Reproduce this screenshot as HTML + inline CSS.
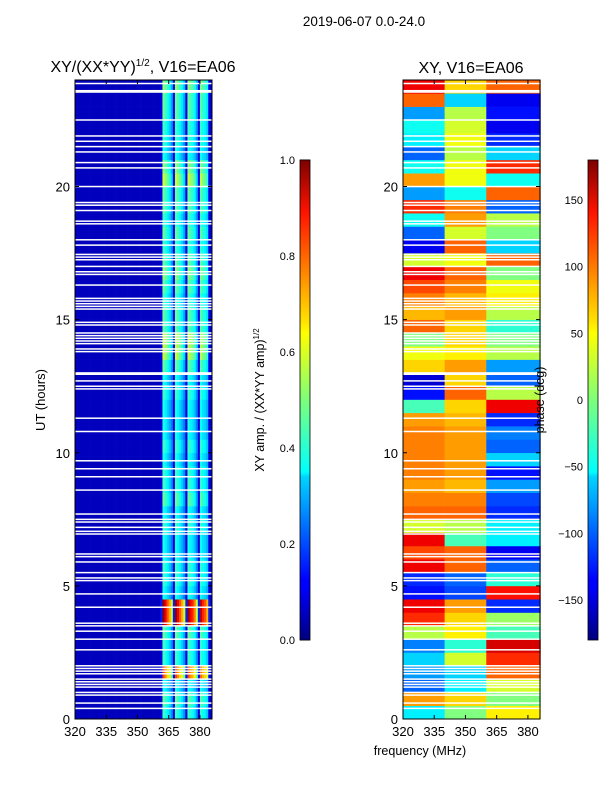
<!DOCTYPE html>
<html><head><meta charset="utf-8">
<style>
body{margin:0;background:#fff;}
svg text{font-family:"Liberation Sans",sans-serif;fill:#000;}
</style></head>
<body>
<svg id="fig" width="600" height="800" xmlns="http://www.w3.org/2000/svg">
<defs>
<linearGradient id="jet" x1="0" y1="1" x2="0" y2="0">
<stop offset="0" stop-color="#00007f"/><stop offset="0.11" stop-color="#0000ff"/>
<stop offset="0.125" stop-color="#0000ff"/><stop offset="0.34" stop-color="#00d4ff"/>
<stop offset="0.35" stop-color="#0ff"/><stop offset="0.5" stop-color="#7dff7a"/>
<stop offset="0.64" stop-color="#ff0"/><stop offset="0.66" stop-color="#ffe600"/>
<stop offset="0.89" stop-color="#ff1300"/><stop offset="1" stop-color="#7f0000"/>
</linearGradient>
</defs>
<text x="364" y="26" font-size="13.5" text-anchor="middle">2019-06-07 0.0-24.0</text>
<text x="143" y="72" font-size="16" text-anchor="middle">XY/(XX*YY)<tspan font-size="10" dy="-6">1/2</tspan><tspan dy="6">, V16=EA06</tspan></text>
<text x="471" y="73" font-size="16" text-anchor="middle">XY, V16=EA06</text>
<g id="ampPlot"></g>
<g id="phPlot"></g>
<g id="axes"></g>
<text transform="translate(45,400) rotate(-90)" font-size="13" text-anchor="middle">UT (hours)</text>
<text x="420" y="755" font-size="12.5" text-anchor="middle">frequency (MHz)</text>
<rect x="300" y="160" width="10" height="480" fill="url(#jet)" stroke="#000" stroke-width="0.8"/>
<rect x="588" y="160" width="10" height="480" fill="url(#jet)" stroke="#000" stroke-width="0.8"/>
<text transform="translate(264,400) rotate(-90)" font-size="12.5" text-anchor="middle">XY amp. / (XX*YY amp)<tspan font-size="8" dy="-5">1/2</tspan></text>
<text transform="translate(544,400) rotate(-90)" font-size="12.5" text-anchor="middle">phase (deg)</text>
</svg>
<script>
const NS='http://www.w3.org/2000/svg';
// ---- data ----
const xTicks=[320,335,350,365,380];
const yTicks=[0,5,10,15,20];
const ampTicks=[0.0,0.2,0.4,0.6,0.8,1.0];
const phaseTicks=[-150,-100,-50,0,50,100,150];
// amplitude channel profile, 1 MHz bins from 320 to 386
const chanProfile=[0,0,0,0,0,0,0,0,0,0,0,0,0,0,0,0,0,0,0,0,0,0,0,0,0,0,0,0,0,0,0,0,0,0,0,0,0,0,0,0,0,0.1,
 1,0.9,0.8,0.7,0.55,0.1, 1,0.9,0.8,0.7,0.55,0.1, 1,0.9,0.85,0.75,0.55,0.1, 0.95,0.85,0.8,0.7,0.1,0.03];
// amplitude per half hour row (0h upward)
const ampRow=[0.38,0.42,0.34,0.75,0.38,0.38,0.42,0.92,0.92,0.34,0.38,0.38,0.34,0.34,0.38,0.34,0.42,0.38,0.38,0.34,0.38,0.34,0.34,0.34,
 0.38,0.34,0.42,0.52,0.52,0.42,0.42,0.38,0.42,0.46,0.42,0.38,0.42,0.38,0.42,0.42,0.52,0.46,0.34,0.38,0.38,0.42,0.42,0.46];
// phase per half hour: three frequency regions
const phaseA=[-50,80,-100,-80,-60,-90,20,120,140,-130,-120,140,110,140,30,100,90,80,90,90,90,90,80,-20,
 -130,-150,60,40,0,100,70,90,110,140,30,-140,-100,-40,120,-80,80,-40,-100,-50,-40,-80,100,140];
const phaseB=[0,60,-50,-60,30,-30,50,60,80,-110,-100,100,100,-20,20,100,90,70,80,80,80,80,70,60,
 100,60,80,50,60,60,80,70,90,100,40,100,30,80,90,-40,40,40,20,40,30,20,-60,60];
const phaseC=[50,0,30,100,120,150,-20,10,-120,130,-30,-100,-140,-50,-50,-120,-110,-80,-130,-60,-100,-90,-120,140,
 20,-100,-80,20,0,-30,20,50,40,0,100,-60,0,20,-100,100,-40,120,-60,-120,-140,-130,-140,100];
const phaseEdges=[320,340,360,386];
// flagged (white) rows, hours
const flagged=[23.87,23.6,23.55,22.5,21.9,21.7,21.5,21.3,20.9,20.7,20.0,19.4,19.3,19.1,18.7,18.6,18.0,17.8,17.45,17.35,17.25,17.0,16.8,16.7,16.3,15.8,15.7,15.6,15.5,15.4,
 14.9,14.8,14.5,14.4,14.3,14.2,14.1,13.9,13.8,13.0,12.95,12.7,12.5,12.4,11.3,10.8,9.7,9.4,9.1,8.6,7.7,7.5,7.4,7.2,7.05,6.95,6.2,6.1,5.9,5.5,5.3,5.2,4.7,4.2,3.6,3.5,3.3,3.0,2.6,2.0,1.9,1.8,1.7,1.5,1.4,1.3,1.2,1.0,0.9,0.6,0.4];
// ---- scales ----
const fMin=320,fMax=385.8,tMin=0,tMax=24;
const panels=[{x0:75,x1:212},{x0:403,x1:540}];
const Y0=719,Y1=80;
const sx=(p,f)=>panels[p].x0+(f-fMin)/(fMax-fMin)*(panels[p].x1-panels[p].x0);
const sy=t=>Y0-(t-tMin)/(tMax-tMin)*(Y0-Y1);
const cbY=(v,lo,hi)=>640-(v-lo)/(hi-lo)*480;
function jet(v){v=Math.max(0,Math.min(1,v));
 const r=Math.max(0,Math.min(1,Math.min(4*v-1.5,-4*v+4.5)));
 const g=Math.max(0,Math.min(1,Math.min(4*v-0.5,-4*v+3.5)));
 const b=Math.max(0,Math.min(1,Math.min(4*v+0.5,-4*v+2.5)));
 return `rgb(${Math.round(r*255)},${Math.round(g*255)},${Math.round(b*255)})`;}
function mk(tag,attrs,parent){const e=document.createElementNS(NS,tag);for(const k in attrs)e.setAttribute(k,attrs[k]);parent.appendChild(e);return e;}
// ---- amp heatmap ----
const ampG=document.getElementById('ampPlot');
ampRow.forEach((rv,r)=>{
 chanProfile.forEach((cp,c)=>{
  const f=fMin+c, v=0.06+cp*rv;
  const x=sx(0,f), w=sx(0,Math.min(f+1,fMax))-x;
  if(w<=0)return;
  const el=mk('rect',{x:x,y:sy((r+1)*0.5),width:w+0.3,height:sy(r*0.5)-sy((r+1)*0.5)+0.3,fill:jet(v)},ampG);
  
  
 });
});
// ---- phase heatmap ----
const phG=document.getElementById('phPlot');
[phaseA,phaseB,phaseC].forEach((arr,k)=>{
 arr.forEach((pv,r)=>{
  const x=sx(1,phaseEdges[k]), w=sx(1,phaseEdges[k+1])-x;
  const el=mk('rect',{x:x,y:sy((r+1)*0.5),width:w+0.3,height:sy(r*0.5)-sy((r+1)*0.5)+0.3,fill:jet((pv+180)/360)},phG);
  
  
 });
});
// ---- flagged rows ----
[ampG,phG].forEach((g,p)=>{
 flagged.forEach(h=>{
  const el=mk('rect',{x:panels[p].x0,y:sy(h)-0.7,width:panels[p].x1-panels[p].x0,height:1.5,fill:'#fff'},g);
  
  
 });
});
// ---- axes ----
const ax=document.getElementById('axes');
panels.forEach((pn,p)=>{
 const fr=mk('rect',{x:pn.x0,y:Y1,width:pn.x1-pn.x0,height:Y0-Y1,fill:'none',stroke:'#000','stroke-width':1},ax);
 
 
 xTicks.forEach(t=>{
  const x=sx(p,t);
  mk('line',{x1:x,y1:Y0,x2:x,y2:Y0-4,stroke:'#000'},ax);
  mk('line',{x1:x,y1:Y1,x2:x,y2:Y1+4,stroke:'#000'},ax);
  const tx=mk('text',{x:x,y:Y0+17,'font-size':13,'text-anchor':'middle'},ax);
  tx.textContent=t;
  
  
 });
 yTicks.forEach(t=>{
  const y=sy(t);
  mk('line',{x1:pn.x0,y1:y,x2:pn.x0+4,y2:y,stroke:'#000'},ax);
  mk('line',{x1:pn.x1,y1:y,x2:pn.x1-4,y2:y,stroke:'#000'},ax);
  const tx=mk('text',{x:pn.x0-5,y:y+5,'font-size':13,'text-anchor':'end'},ax);
  tx.textContent=t;
  
  
 });
});
ampTicks.forEach(t=>{
 const y=cbY(t,0,1);
 mk('line',{x1:300,y1:y,x2:310,y2:y,stroke:'#000','stroke-width':0.8},ax);
 const tx=mk('text',{x:295,y:y+4,'font-size':11,'text-anchor':'end'},ax);
 tx.textContent=t.toFixed(1);
 
 
});
phaseTicks.forEach(t=>{
 const y=cbY(t,-180,180);
 mk('line',{x1:588,y1:y,x2:598,y2:y,stroke:'#000','stroke-width':0.8},ax);
 const tx=mk('text',{x:583,y:y+4,'font-size':11,'text-anchor':'end'},ax);
 tx.textContent=t<0?'\u2212'+(-t):t;
 
 
});
</script>
</body></html>
